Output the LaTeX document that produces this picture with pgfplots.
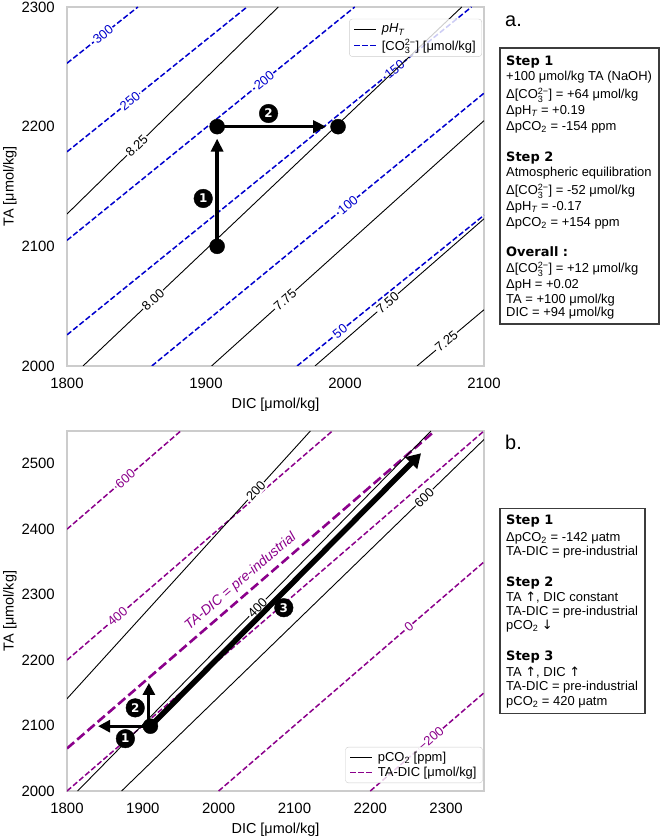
\documentclass[border=0pt]{standalone}
\usepackage{amsmath}
\usepackage{fontspec}
\setmainfont{Liberation Sans}
\newfontfamily\djv{DejaVu Sans}
\usepackage{pgfplots}
\pgfplotsset{compat=1.18}
\usetikzlibrary{arrows.meta}

\definecolor{co3blue}{RGB}{0,0,205}
\definecolor{alkpurple}{RGB}{139,0,139}
\definecolor{framegray}{RGB}{204,204,204}
\definecolor{boxgray}{RGB}{60,60,60}

\newcommand{\cothree}{CO$_{\text{3}}^{\text{2−}}$}
\newcommand{\stephead}[1]{{\djv\bfseries #1}}
% one line of a side box: x, baseline y (bp), text
\newcommand{\bl}[3]{\node[anchor=base west, inner sep=0pt, font=\fontsize{13}{15}\selectfont] at (#1bp,#2bp) {#3};}

\tikzset{
  clab/.style={sloped, fill=white, inner sep=1bp, font=\fontsize{13}{15}\selectfont},
  solidkey/.style={draw=black, line width=0.9bp},
  bluekey/.style={draw=co3blue, line width=1.5bp, dash pattern=on 5.5bp off 2.5bp},
  purplekey/.style={draw=alkpurple, line width=1.5bp, dash pattern=on 5.5bp off 2.5bp},
}

\pgfplotsset{
  chemaxis/.style={
    scale only axis,
    axis line style={framegray, line width=1.25bp},
    major tick length=0pt,
    tick style={draw=none},
    /pgf/number format/assume math mode=true,
    /pgf/number format/set thousands separator={},
    tick label style={font=\fontsize{15}{18}\selectfont, inner sep=0pt},
    yticklabel style={anchor=east, xshift=-12bp},
    xticklabel style={anchor=north, yshift=-12bp},
    label style={font=\fontsize{14.5}{17}\selectfont, inner sep=0pt},
    legend cell align=left,
  },
  phline/.style={black, line width=0.9bp, forget plot},
  co3line/.style={co3blue, line width=1.5bp, dash pattern=on 5.5bp off 2.5bp, forget plot},
  alkline/.style={alkpurple, line width=1.5bp, dash pattern=on 5.5bp off 2.5bp, forget plot},
  steparrow/.style={black, line width=3.5bp, -{Triangle[length=13bp,width=12bp]}, forget plot},
  numbered/.style={only marks, mark=*, mark size=9.3bp, black, forget plot,
    point meta=explicit symbolic, nodes near coords,
    every node near coord/.append style={anchor=center, text=white, inner sep=0pt,
      font=\djv\bfseries\fontsize{12}{12}\selectfont}},
}

\begin{document}
\begin{tikzpicture}
\path[use as bounding box] (0,0) rectangle (661bp,838bp);

% ---------------- panel a: pH_T and carbonate ion isolines ----------------
\begin{axis}[chemaxis,
  at={(67bp,472bp)}, anchor=south west, width=417bp, height=359bp,
  xmin=1800, xmax=2100, ymin=2000, ymax=2300,
  xtick={1800,1900,2000,2100}, ytick={2000,2100,2200,2300},
  xlabel={DIC [μmol/kg]}, ylabel={TA [μmol/kg]},
  xlabel style={at={(axis description cs:0.5,-0.089)}, anchor=north},
  ylabel style={at={(axis description cs:-0.1535,0.5)}, anchor=north},
  legend style={at={(axis description cs:0.995,0.967)}, anchor=north east,
    draw=framegray, rounded corners=3bp, fill=white, fill opacity=0.8,
    draw opacity=1, text opacity=1, font=\fontsize{13}{15}\selectfont,
    inner xsep=4bp, inner ysep=3bp, row sep=1bp},
]
\addlegendimage{legend image code/.code={\draw[solidkey] (0bp,0bp) -- (22bp,0bp);}}
\addlegendentry{\hspace{3bp}\textit{pH}$_{\textit{T}}$}
\addlegendimage{legend image code/.code={\draw[bluekey] (0bp,0bp) -- (22bp,0bp);}}
\addlegendentry{\hspace{3bp}[\cothree] [μmol/kg]}

% carbonate ion [umol/kg]
\addplot[co3line] coordinates {(1800,2253) (1851,2300)} node[clab, pos=0.51, text=co3blue] {300};
\addplot[co3line] coordinates {(1800,2179) (1929.5,2300)} node[clab, pos=0.35, text=co3blue] {250};
\addplot[co3line] coordinates {(1800,2105) (2007,2300)} node[clab, pos=0.685, text=co3blue] {200};
\addplot[co3line] coordinates {(1800,2026) (2091,2300)} node[clab, pos=0.81, text=co3blue] {150};
\addplot[co3line] coordinates {(1861,2000) (2100,2228)} node[clab, pos=0.59, text=co3blue] {100};
\addplot[co3line] coordinates {(1965.5,2000) (2100,2126)} node[clab, pos=0.23, text=co3blue] {50};

% pH (total scale)
\addplot[phline] coordinates {(1800,2127) (1952,2300)} node[clab, pos=0.33] {8.25};
\addplot[phline] coordinates {(1811.5,2000) (2084,2300)} node[clab, pos=0.185] {8.00};
\addplot[phline] coordinates {(1904,2000) (2100,2205)} node[clab, pos=0.27] {7.75};
\addplot[phline] coordinates {(1978.4,2000) (2100,2123)} node[clab, pos=0.43] {7.50};
\addplot[phline] coordinates {(2051.8,2000) (2100,2047)} node[clab, pos=0.44] {7.25};

% alkalinity addition, then re-equilibration with the atmosphere
\addplot[steparrow] coordinates {(1908,2100) (1908,2190)};
\addplot[steparrow] coordinates {(1908,2200) (1986.5,2200)};
\addplot[only marks, mark=*, mark size=7.5bp, black, forget plot]
  coordinates {(1908,2100) (1908,2200) (1995,2200)};
\addplot[numbered] coordinates {(1898,2140) [1] (1945,2211) [2]};
\end{axis}

% ---------------- panel b: pCO2 and TA-DIC isolines ----------------
\begin{axis}[chemaxis,
  at={(67bp,47bp)}, anchor=south west, width=417bp, height=360bp,
  xmin=1800, xmax=2350, ymin=2000, ymax=2550,
  xtick={1800,1900,...,2300}, ytick={2000,2100,...,2500},
  xlabel={DIC [μmol/kg]}, ylabel={TA [μmol/kg]},
  xlabel style={at={(axis description cs:0.5,-0.089)}, anchor=north},
  ylabel style={at={(axis description cs:-0.1535,0.5)}, anchor=north},
  legend style={at={(axis description cs:0.997,0.022)}, anchor=south east,
    draw=framegray, rounded corners=3bp, fill=white, fill opacity=0.8,
    draw opacity=1, text opacity=1, font=\fontsize{13}{15}\selectfont,
    inner xsep=4bp, inner ysep=3bp, row sep=0bp},
]
\addlegendimage{legend image code/.code={\draw[solidkey] (0bp,0bp) -- (22bp,0bp);}}
\addlegendentry{\hspace{3bp}pCO\textsubscript{2} [ppm]}
\addlegendimage{legend image code/.code={\draw[purplekey] (0bp,0bp) -- (22bp,0bp);}}
\addlegendentry{\hspace{3bp}TA-DIC [μmol/kg]}

% TA-DIC [umol/kg]
\addplot[alkline] coordinates {(1800,2400) (1950,2550)} node[clab, pos=0.513, text=alkpurple] {600};
\addplot[alkline] coordinates {(1800,2200) (2150,2550)} node[clab, pos=0.19, text=alkpurple] {400};
\addplot[alkline] coordinates {(1800,2000) (2350,2550)};
\addplot[alkline] coordinates {(2000,2000) (2350,2350)} node[clab, pos=0.717, text=alkpurple] {0};
\addplot[alkline] coordinates {(2200,2000) (2350,2150)} node[clab, pos=0.533, text=alkpurple] {−200};
\addplot[alkpurple, line width=2.6bp, dash pattern=on 9.5bp off 4bp, forget plot]
  coordinates {(1800,2065) (2285,2550)}
  node[sloped, pos=0.495, anchor=south, inner sep=5bp, text=alkpurple,
       font=\itshape\fontsize{14}{16}\selectfont] {TA-DIC = pre-industrial};

% pCO2 [ppm]
\addplot[phline] coordinates {(1800,2141) (2121,2550)} node[clab, pos=0.776] {200};
\addplot[phline] coordinates {(1814,2000) (2280,2550)} node[clab, pos=0.509] {400};
\addplot[phline] coordinates {(1872,2000) (2350,2537)} node[clab, pos=0.835] {600};

% steps
\addplot[black, line width=3bp, -{Triangle[length=12bp,width=12bp]}, forget plot]
  coordinates {(1910,2099) (1841,2099)};
\addplot[black, line width=3bp, -{Triangle[length=12bp,width=12bp]}, forget plot]
  coordinates {(1908,2099) (1908,2165)};
\addplot[black, line width=5.5bp, -{Triangle[length=14bp,width=16bp]}, forget plot]
  coordinates {(1910,2099) (2267,2516)};
\addplot[only marks, mark=*, mark size=7.5bp, black, forget plot] coordinates {(1910,2099)};
\addplot[numbered] coordinates {(1877,2080) [1] (1890,2127) [2] (2086,2280) [3]};
\end{axis}

% ---------------- side boxes ----------------
\node[anchor=base west, inner sep=0pt, font=\fontsize{20}{22}\selectfont] at (505bp,811.5bp) {a.};
\draw[boxgray, line width=1.3bp] (500bp,790bp) rectangle (659bp,514bp);
\bl{506}{772.5}{\stephead{Step 1}}
\bl{506}{757.5}{+100 μmol/kg TA (NaOH)}
\bl{506}{739.5}{Δ[\cothree] = +64 μmol/kg}
\bl{506}{723.5}{ΔpH$_{\textit{T}}$ = +0.19}
\bl{506}{707.5}{ΔpCO\textsubscript{2} = -154 ppm}
\bl{506}{676.5}{\stephead{Step 2}}
\bl{506}{661.5}{Atmospheric equilibration}
\bl{506}{643.5}{Δ[\cothree] = -52 μmol/kg}
\bl{506}{627.5}{ΔpH$_{\textit{T}}$ = -0.17}
\bl{506}{611.5}{ΔpCO\textsubscript{2} = +154 ppm}
\bl{506}{581.5}{\stephead{Overall :}}
\bl{506}{565.5}{Δ[\cothree] = +12 μmol/kg}
\bl{506}{549}{ΔpH = +0.02}
\bl{506}{534.5}{TA = +100 μmol/kg}
\bl{506}{521.5}{DIC = +94 μmol/kg}

\node[anchor=base west, inner sep=0pt, font=\fontsize{20}{22}\selectfont] at (505bp,388bp) {b.};
\draw[boxgray, line width=1.3bp] (500bp,329.7bp) rectangle (645bp,124.7bp);
\bl{506}{313.5}{\stephead{Step 1}}
\bl{506}{296.5}{ΔpCO\textsubscript{2} = -142 μatm}
\bl{506}{282.5}{TA-DIC = pre-industrial}
\bl{506}{251.5}{\stephead{Step 2}}
\bl{506}{236.5}{TA {\djv ↑}, DIC constant}
\bl{506}{222.5}{TA-DIC = pre-industrial}
\bl{506}{208.5}{pCO\textsubscript{2} {\djv ↓}}
\bl{506}{177.5}{\stephead{Step 3}}
\bl{506}{161.5}{TA {\djv ↑}, DIC {\djv ↑}}
\bl{506}{147.5}{TA-DIC = pre-industrial}
\bl{506}{132.5}{pCO\textsubscript{2} = 420 μatm}
\end{tikzpicture}
\end{document}
